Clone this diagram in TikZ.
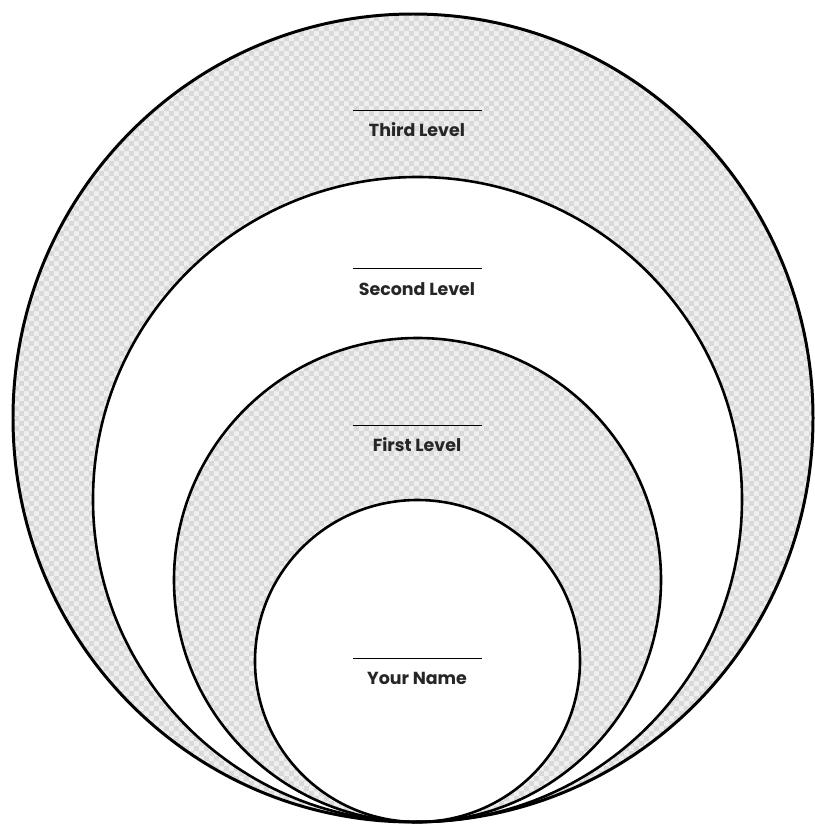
\documentclass[tikz,border=0pt]{standalone}
\usepackage{fontspec}
\setmainfont{Poppins}
\usetikzlibrary{patterns.meta}
\tikzdeclarepattern{
  name=lightcheck,
  type=uncolored,
  bottom left={(0pt,0pt)},
  top right={(10pt,10pt)},
  tile size={(10pt,10pt)},
  code={
    \fill (0pt,0pt) rectangle (5pt,5pt);
    \fill (5pt,5pt) rectangle (10pt,10pt);
  }
}
\definecolor{checklight}{HTML}{EFEFEF}
\definecolor{checkdark}{HTML}{D9D9D9}
\tikzset{
  ring/.style={draw=black, line width=2.6pt},
  shaded/.style={fill=checklight, postaction={pattern=lightcheck, pattern color=checkdark}},
  blank/.style={fill=white},
  lvl/.style={font=\fontsize{17.5}{20}\selectfont\bfseries, inner sep=0pt, text=black!85},
  rule/.style={draw=black, line width=1pt}
}
\begin{document}
\begin{tikzpicture}[x=1bp,y=-1bp]
\useasboundingbox (0,0) rectangle (815,825);
% fills
\path[shaded] (413,418) ellipse [x radius=400, y radius=404];
\path[blank] (417.5,499.5) ellipse [x radius=324.5, y radius=322.5];
\path[shaded] (417.5,580) ellipse [x radius=243.5, y radius=242];
\path[blank] (417.5,661) ellipse [x radius=162.5, y radius=161];
% outlines
\draw[ring, line width=3pt] (413,418) ellipse [x radius=400, y radius=404];
\draw[ring] (417.5,499.5) ellipse [x radius=324.5, y radius=322.5];
\draw[ring] (417.5,580) ellipse [x radius=243.5, y radius=242];
\draw[ring] (417.5,661) ellipse [x radius=162.5, y radius=161];
% labels
\node[lvl] (third) at (417,130) {Third Level};
\node[lvl] (second) at (417,289) {Second Level};
\node[lvl] (first) at (417,445) {First Level};
\node[lvl] (you) at (417,678) {Your Name};
\coordinate (t1) at (353,110); \coordinate (t2) at (482,110);
\coordinate (s1) at (353,268); \coordinate (s2) at (482,268);
\coordinate (f1) at (353,425); \coordinate (f2) at (482,425);
\coordinate (y1) at (353,658); \coordinate (y2) at (482,658);
\draw[rule] (t1) -- (t2);
\draw[rule] (s1) -- (s2);
\draw[rule] (f1) -- (f2);
\draw[rule] (y1) -- (y2);
\end{tikzpicture}
\end{document}
